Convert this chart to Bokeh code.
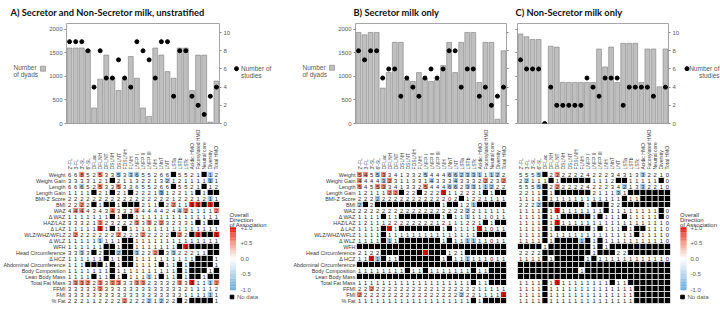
import math
import numpy as np
from bokeh.plotting import figure
from bokeh.models import (FactorRange, Range1d, LinearAxis, FixedTicker,
                          LinearColorMapper, ColumnDataSource)
from bokeh.layouts import row, column
from bokeh.embed import file_html
from bokeh.resources import INLINE
from bokeh.core.properties import value

# ---------------- data ----------------
hmos = ["2'-FL", "3-FL", "3'-SL", "6'-SL", "DFLac", "DFLNH", "DFLNT", "DSLNH", "DSLNT",
        "FDSLNH", "FLNH", "LNFP I", "LNFP II", "LNFP III", "LNH", "LNnT", "LNT", "LSTa",
        "LSTb", "LSTc", "Acidic HMO", "Fucosylated HMO", "Neutral core", "Diversity", "Total HMO"]

outcomes = ["Weight", "Weight Gain", "Length", "Length Gain", "BMI-Z Score", "BMI", "WAZ",
            "\u0394 WAZ", "HAZ/LAZ", "\u0394 LAZ", "WLZ/WHZ/WFLZ", "\u0394 WLZ", "WFH",
            "Head Circumference", "\u0394 HCZ", "Abdominal Circumference", "Body Composition",
            "Lean Body Mass", "Total Fat Mass", "FFMI", "FMI", "% Fat"]

titles = ["A) Secretor and Non-Secretor milk, unstratified",
          "B) Secretor milk only",
          "C) Non-Secretor milk only"]

# number of dyads (bars) and number of studies (dots)
dyads_a = [1600, 1600, 1600, 1560, 330, 940, 1450, 960, 700, 950, 1420, 960, 330, 150,
           1600, 1450, 1100, 960, 1600, 1600, 700, 1450, 1450, 30, 900]
studies_a = [9, 9, 9, 8, 4, 8, 5, 5, 7, 5, 4, 9, 8, 7, 5, 9, 9, 3, 8, 8, 3, 2, 1, 3, 4]

dyads_b = [1930, 1880, 1930, 1930, 750, 1080, 1720, 1720, 920, 890, 1080, 950, 890, 920,
           1230, 1720, 1080, 1720, 1930, 1930, 870, 1720, 1720, 90, 1540]
studies_b = [8, 7, 8, 8, 5, 6, 6, 3, 5, 4, 3, 5, 6, 5, 6, 8, 8, 4, 6, 6, 3, 4, 2, 3, 4]

dyads_c = [1900, 1840, 1780, 1780, 0, 1640, 1620, 870, 870, 870, 870, 870, 870, 1580,
           1200, 1620, 870, 1700, 1700, 1700, 870, 1580, 1580, 780, 1580]
studies_c = [7, 6, 6, 6, 0, 4, 2, 2, 2, 2, 2, 5, 4, 3, 5, 5, 5, 2, 4, 4, 4, 4, 3, None, 4]

# cell texts: number of studies per outcome x HMO ('x' = no data)
counts_a = [
    "66852533533655266x5521x12",
    "3333121x21132213212111111",
    "66652533533655266x5521x12",
    "1111x21x21x2221312211x1xx",
    "2222222222222222212221211",
    "2222x1xx1xxx211x221111x1x",
    "4444343433344444244211112",
    "1111111x1xx11111111111111",
    "333213232223332232331x1xx",
    "1111111x1x111111111111111",
    "22222222222222222x22x1xx1",
    "111111111xx11111111111111",
    "111111xx1xx1111111x1xxxxx",
    "3333x2xx2xx3222x3322211xx",
    "111111x11xx1111111111xxx1",
    "111xxx1x1xx1111x11x1xxxx1",
    "1111111x1111111111x1xxx1x",
    "1111x11x1x11111x11x1xx1xx",
    "3332233333333233323311112",
    "3333333333333333333211112",
    "3333333333333333333111111",
    "222112222222221222x2xxxx1",
]
# overall direction of association: . none, r/R positive, b/B negative
dirs_a = [
    "..r..r..b.bb...........b.",
    "................b......B.",
    "..b..r..r................",
    "...............B.........",
    ".......................b.",
    "..r..............r..RR.R.",
    ".rr....r...r......br....r",
    ".........................",
    ".....r.....r.r.r.........",
    ".....R...................",
    ".r......r...r.....r..R..R",
    ".....b...................",
    "...................R.....",
    "..b.....b..b..r..b.......",
    ".........................",
    ".........................",
    ".........................",
    ".............b...........",
    ".rrr.r.rr..rr.....r.R..br",
    ".....r...................",
    ".......................b.",
    ".........r...b.b.........",
]

counts_b = [
    "5455334133254446623311122",
    "4444323113314333433322232",
    "5455334133254446623311222",
    "1211122x22x2221112221x1xx",
    "22222222222222202x1221111",
    "2x2xxxxxxxxxxx1xx121xxxxx",
    "2222222222222222222211111",
    "1111x11xxxxxxx1x111111011",
    "121112222222212111221x1xx",
    "1111x11xxxxxxx1x111111011",
    "1111x111111111111111xxxxx",
    "1111x11xxxxxxx1x111111011",
    "xxxxxxxxxxxxxxxxxxxxxxxxx",
    "2122xxxxxxx1xxx121xxxxxxx",
    "1111x11xxxxxxx1x111111011",
    "xxxxxxxxxxxxxxxxxxxxxxxxx",
    "11111111x11x1111111x11xxx",
    "xxxxxxxxxxxxxxxxxxxxxxxxx",
    "1111111111111111111x11xxx",
    "2222222222222122222211111",
    "2222222222222222222211111",
    "1111111111111111111x1xxxx",
]
dirs_b = [
    "rr.br......b...bbbbbb.bb.",
    "r...br......b...b....r..r",
    "r..rr......r...bb.bb.bb..",
    ".....rr.......R..........",
    "...b.....................",
    "b..................b.....",
    "..................b......",
    "..................b......",
    ".........................",
    ".....R..............R....",
    ".........................",
    ".....b............bb.....",
    ".........................",
    "...........R.............",
    "..Rb..............b......",
    ".........................",
    ".........................",
    ".........................",
    ".........................",
    "..r......................",
    "r................b......R",
    ".........................",
]

counts_c = [
    "5555x22222242223431332210",
    "22111x1xxxxx1112xx11111x0",
    "5555x22222242223421332210",
    "2211x1xxxxxx211131xxxxxxx",
    "1111x111111111111x11xxxxx",
    "2222xxxxxxx1xxx22xxxxxxxx",
    "1111x111111111x11111111x0",
    "1111x11xxxxx1x111x11111x0",
    "1111x11111111111111111110",
    "1111x1xxxxxx1x111x1xx1110",
    "1111x11111111111111x11110",
    "1111x1xxxx1x1x11111111110",
    "xxxx1xxxxxxx1x1xxxxxxxxxx",
    "2222xxxxxxxx1xxx22xxxxxxx",
    "1111x1xxxxx1x111111111110",
    "xxxxxxxxxxxxxxxxxxxxxxxxx",
    "xxxxxxxxxx1xxxxxxxxxxxxxx",
    "xxxxxxxxxxxxxxxxxxxxxxxxx",
    "1111x1111111111x11xxxxxxx",
    "1111x11111111111111xxxxxx",
    "1111x11111111111111xxxxxx",
    "1111x11111111111111xxxxxx",
]
dirs_c = [
    "...b..r.............b....",
    ".b.......................",
    "...b..r..........b..b....",
    "................b........",
    ".........................",
    "...b.....................",
    "......R..................",
    ".........................",
    "......R..................",
    ".........................",
    ".........................",
    "..........b..............",
    ".........................",
    ".........................",
    ".........................",
    ".........................",
    ".........................",
    ".........................",
    "......R..................",
    ".........................",
    ".........................",
    ".........................",
]

dir_values = {".": 0.0, "r": 0.55, "R": 1.0, "b": -0.6, "B": -0.9}
cbar_ticks = [1.0, 0.5, 0.0, -0.5, -1.0]
cbar_labels = ["+1.0", "+0.5", "0.0", "-0.5", "-1.0"]

# ---------------- styles ----------------
FONT = "Liberation Sans"
TFONT = "Lato"
LAB_C = "#3a3a3a"
TICK_C = "#595959"


def _hex(c):
    c = c.lstrip("#")
    return [int(c[i:i + 2], 16) for i in (0, 2, 4)]


def make_palette(stops, n=255):
    out = []
    for k in range(n):
        v = -1 + 2 * k / (n - 1)
        for (v0, c0), (v1, c1) in zip(stops[:-1], stops[1:]):
            if v0 <= v <= v1:
                t = (v - v0) / (v1 - v0)
                a, b = _hex(c0), _hex(c1)
                out.append("#%02x%02x%02x" % tuple(round(a[i] + (b[i] - a[i]) * t) for i in range(3)))
                break
    return out


PAL = make_palette([(-1, "#62a6da"), (-0.5, "#b4d5ee"), (0, "#ffffff"),
                    (0.5, "#f29a84"), (1, "#e3120b")])
MAPPER = LinearColorMapper(palette=PAL, low=-1, high=1, nan_color="black")

TOP_Y = 22      # height of title strip
BAR_H = 104     # bar band height
HEAT_H = 183    # heat band height


def canvas(w, h):
    p = figure(width=w, height=h, x_range=Range1d(0, w), y_range=Range1d(h, 0),
               output_backend="svg", toolbar_location=None, min_border=0,
               x_axis_location=None, y_axis_location=None)
    p.outline_line_color = None
    p.grid.visible = False
    return p


def txt(p, x, y, t, size="6.5px", color=TICK_C, align="left", font=FONT, style="normal",
        baseline="middle"):
    p.text(x=[x], y=[y], text=[t], text_font=value(font), text_font_size=size,
           text_color=color, text_align=align, text_baseline=baseline, text_font_style=style)


def bar_panel(dyads, studies, lb, fw, rb, left_lab, right_lab):
    p = figure(width=lb + fw + rb, height=BAR_H, x_range=FactorRange(*hmos),
               y_range=Range1d(0, 2120), output_backend="svg", toolbar_location=None,
               min_border_left=lb, min_border_right=rb, min_border_top=1, min_border_bottom=3,
               x_axis_location=None, y_axis_location=None)
    p.extra_y_ranges = {"st": Range1d(0, 11)}
    p.vbar(x=hmos, top=dyads, width=0.8, fill_color="#bfbfbf", line_color="#7f7f7f",
           line_width=0.6)
    sx = [h for h, s in zip(hmos, studies) if s is not None]
    sy = [s for s in studies if s is not None]
    p.scatter(sx, sy, y_range_name="st", size=4.0, color="black")
    la = LinearAxis(ticker=FixedTicker(ticks=[0, 500, 1000, 1500, 2000]))
    ra = LinearAxis(y_range_name="st", ticker=FixedTicker(ticks=[0, 2, 4, 6, 8, 10]))
    for ax, show in ((la, left_lab), (ra, right_lab)):
        ax.axis_line_color = None
        ax.major_tick_line_color = "#8c8c8c"
        ax.major_tick_out = 2
        ax.major_tick_in = 0
        ax.minor_tick_out = 0
        ax.minor_tick_line_color = None
        ax.major_label_text_font_size = "6px"
        ax.major_label_text_color = TICK_C
        ax.major_label_text_font = FONT
        ax.major_label_standoff = 2
        if not show:
            ax.major_label_overrides = {t: "" for t in ax.ticker.ticks}
    p.add_layout(la, "left")
    p.add_layout(ra, "right")
    p.grid.visible = False
    p.outline_line_color = "#a6a6a6"
    return p


def heat_panel(counts, dirs, lb, fw, rb, show_rows):
    p = figure(width=lb + fw + rb, height=HEAT_H, x_range=FactorRange(*hmos),
               y_range=FactorRange(*outcomes[::-1]), output_backend="svg",
               toolbar_location=None, min_border_left=lb, min_border_right=rb,
               min_border_top=44, min_border_bottom=6, x_axis_location="above",
               y_axis_location="left" if show_rows else None)
    xs, ys, ds, ts = [], [], [], []
    for i, oc in enumerate(outcomes):
        cr = counts[i].ljust(len(hmos), "x")[:len(hmos)]
        dr = dirs[i].ljust(len(hmos), ".")[:len(hmos)]
        for j, h in enumerate(hmos):
            xs.append(h)
            ys.append(oc)
            if cr[j] == "x":
                ds.append(np.nan)
                ts.append("")
            else:
                ds.append(dir_values.get(dr[j], 0.0))
                ts.append(cr[j])
    src = ColumnDataSource(dict(x=xs, y=ys, d=np.array(ds, dtype=float), t=ts))
    p.rect("x", "y", 1, 1, source=src, fill_color={"field": "d", "transform": MAPPER},
           line_color="white", line_width=0.7)
    p.text("x", "y", text="t", source=src, text_align="center", text_baseline="middle",
           text_font_size="5.8px", text_font=value(FONT), text_color="#1a1a1a")
    xa = p.xaxis[0]
    xa.major_label_orientation = math.pi / 2
    xa.major_label_text_font_size = "5px"
    xa.major_label_standoff = 2
    axes = [xa] + ([p.yaxis[0]] if show_rows else [])
    for ax in axes:
        ax.axis_line_color = None
        ax.major_tick_line_color = None
        ax.major_tick_out = 0
        ax.major_tick_in = 0
        ax.minor_tick_out = 0
        ax.major_label_text_color = LAB_C
        ax.major_label_text_font = FONT
    if show_rows:
        p.yaxis[0].major_label_text_font_size = "5.4px"
        p.yaxis[0].major_label_standoff = 1
    p.grid.visible = False
    p.outline_line_color = None
    return p


def cbar_panel(w, bx, lx):
    """colour key drawn in its own small canvas; bx = left of bar, lx = label x"""
    p = canvas(w, HEAT_H)
    y0 = 204 - (TOP_Y + BAR_H)
    y1 = 290 - (TOP_Y + BAR_H)
    n = 86
    vals = np.linspace(1, -1, n)
    ys = y0 + (1 - vals) / 2 * (y1 - y0)
    p.rect(x=bx + 3, y="y", width=6, height=(y1 - y0) / n + 0.3,
           fill_color={"field": "v", "transform": MAPPER}, line_color=None,
           source=ColumnDataSource(dict(v=vals, y=ys)))
    for v, t in zip(cbar_ticks, cbar_labels):
        txt(p, lx, y0 + (1 - v) / 2 * (y1 - y0), t, size="6px")
    for k, line in enumerate(["Overall", "Direction", "of Association"]):
        txt(p, bx - 0.5, 186 - (TOP_Y + BAR_H) + 7 * k, line, size="6px", color=LAB_C)
    p.scatter([bx + 2], [300 - (TOP_Y + BAR_H)], marker="square", size=3.6, color="black")
    txt(p, bx + 7, 300 - (TOP_Y + BAR_H), "No data", size="6px")
    return p


# ---------------- title strip ----------------
ttl = canvas(720, TOP_Y)
for x, t in zip([10, 353, 515], titles):
    txt(ttl, x, 11.5, t, size="9.3px", color="#111111", font=TFONT, style="bold",
        baseline="alphabetic")

# ---------------- top band ----------------
legA_l = canvas(46, BAR_H)
txt(legA_l, 13, 68 - TOP_Y, "Number")
txt(legA_l, 13, 75 - TOP_Y, "of dyads")
legA_l.scatter([42.5], [69 - TOP_Y], marker="square", size=5, fill_color="#bfbfbf",
               line_color="#7f7f7f", line_width=0.6)

barA = bar_panel(dyads_a, studies_a, 18, 155, 14, True, True)

legA_r = canvas(57, BAR_H)
legA_r.scatter([3], [69 - TOP_Y], size=4.0, color="black")
txt(legA_r, 7.5, 69 - TOP_Y, "Number of")
txt(legA_r, 7.5, 76 - TOP_Y, "studies")

legB_l = canvas(45, BAR_H)
txt(legB_l, 12, 68 - TOP_Y, "Number")
txt(legB_l, 12, 75 - TOP_Y, "of dyads")
legB_l.scatter([41.5], [68 - TOP_Y], marker="square", size=5, fill_color="#bfbfbf",
               line_color="#7f7f7f", line_width=0.6)

barB = bar_panel(dyads_b, studies_b, 18, 153, 5, True, False)
barC = bar_panel(dyads_c, studies_c, 6, 153, 12, False, True)

legC_r = canvas(38, BAR_H)
legC_r.scatter([4.5], [69 - TOP_Y], size=4.0, color="black")
txt(legC_r, 37, 69 - TOP_Y, "Number of", align="right")
txt(legC_r, 37, 76 - TOP_Y, "studies", align="right")

# ---------------- heat band ----------------
heatA = heat_panel(counts_a, dirs_a, 64, 155, 4, True)
cbarA = cbar_panel(67, 229.5 - 223, 240 - 223)
heatB = heat_panel(counts_b, dirs_b, 63, 153, 5, True)
heatC = heat_panel(counts_c, dirs_c, 6, 153, 4, False)
cbarC = cbar_panel(46, 680 - 674, 690 - 674)

layout = column(ttl,
                row(legA_l, barA, legA_r, legB_l, barB, barC, legC_r),
                row(heatA, cbarA, heatB, heatC, cbarC))

with open("out.html", "w") as f:
    f.write(file_html(layout, INLINE))
